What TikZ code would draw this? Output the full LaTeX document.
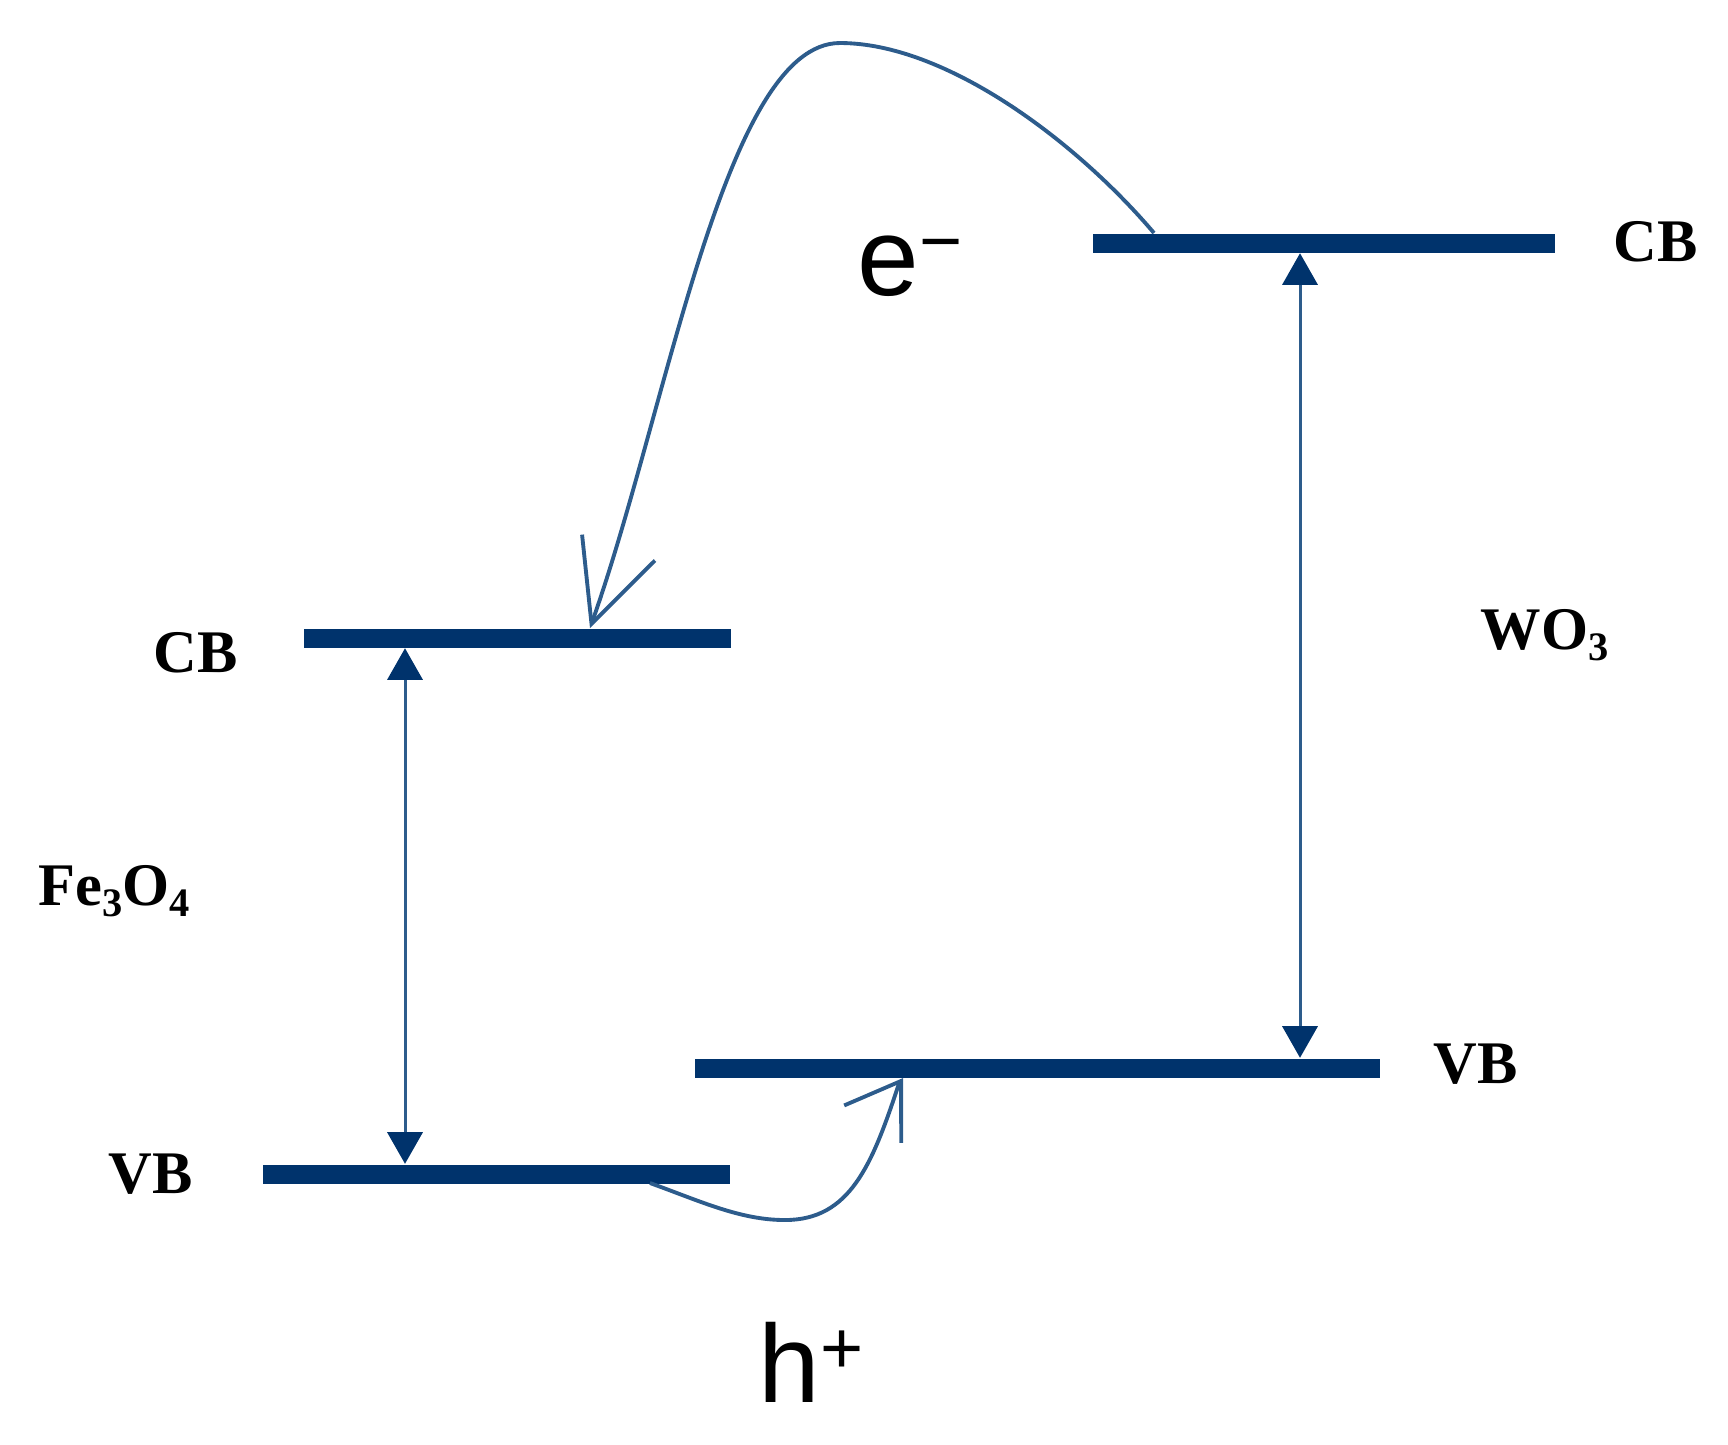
\documentclass[tikz,border=0pt]{standalone}
\usepackage{fontspec}
\setmainfont{Liberation Serif}
\newfontfamily\arialfam{Liberation Sans}
\usetikzlibrary{arrows.meta,calc}
\definecolor{barblue}{HTML}{00336C}
\definecolor{lineblue}{HTML}{2D5C8C}
\newcommand{\mysub}[1]{\raisebox{-3.4pt}{\fontsize{11.5}{11.5}\selectfont #1}}
\newcommand{\mysup}[1]{\raisebox{8pt}{\fontsize{21}{21}\selectfont #1}}
\begin{document}
\begin{tikzpicture}[x=0.01cm,y=-0.01cm,
  bar/.style={fill=barblue, draw=none, inner sep=0pt, minimum height=0.19cm},
  lbl/.style={font=\bfseries\fontsize{17.2}{20}\selectfont, inner sep=0pt, anchor=base west},
  big/.style={font=\arialfam\fontsize{31.5}{36}\selectfont, inner sep=0pt, anchor=base west},
  gap/.style={lineblue, line width=0.85pt,
    {Triangle[length=9pt,width=10pt,color=barblue]}-{Triangle[length=9pt,width=10pt,color=barblue]}},
  hop/.style={lineblue, line width=1.1pt}]
\useasboundingbox (0,0) rectangle (1728,1444);

% energy levels
\node[bar, minimum width=4.62cm] (cbW) at (1324,243) {};
\node[bar, minimum width=4.27cm] (cbF) at (517.5,638) {};
\node[bar, minimum width=6.85cm] (vbW) at (1037.5,1068) {};
\node[bar, minimum width=4.67cm] (vbF) at (496.5,1174) {};

% labels
\node[lbl] (cbWl) at (1613,261) {CB};
\node[lbl] (cbFl) at (153,672) {CB};
\node[lbl] (vbWl) at (1433,1083) {VB};
\node[lbl] (vbFl) at (108,1193) {VB};
\node[lbl] (fe) at (38,905) {Fe\mysub{3}O\mysub{4}};
\node[lbl] (wo) at (1480,649) {WO\mysub{3}};
\node[big] (el) at (857,295) {e\mysup{−}};
\node[big] (ho) at (758,1402) {h\mysup{+}};

% band gaps
\coordinate (gF) at (405,0);
\coordinate (gW) at (1300,0);
\draw[gap] (cbF.south -| gF) -- (vbF.north -| gF);
\draw[gap] (cbW.south -| gW) -- (vbW.north -| gW);

% electron transfer
\coordinate (eS) at (1154,233);
\coordinate (eP) at (840,43);
\coordinate (eT) at (590,628);
\draw[hop, -{Straight Barb[length=23pt,width=22pt]}]
  (eS) .. controls (1075,140) and (945,43) .. (eP)
       .. controls (725,43) and (668,408) .. (eT);

% hole transfer
\coordinate (hS) at (650,1183);
\coordinate (hB) at (785,1220);
\coordinate (hT) at (903,1078);
\coordinate (hQ) at ($(hT)+(-4.4,6.7)$);
\draw[hop, -{Straight Barb[length=14.7pt,width=19.4pt]}]
  (hS) .. controls (700,1201) and (740,1220) .. (hB)
       .. controls (850,1220) and (872,1165) .. (hQ) -- (hT);
\end{tikzpicture}
\end{document}
